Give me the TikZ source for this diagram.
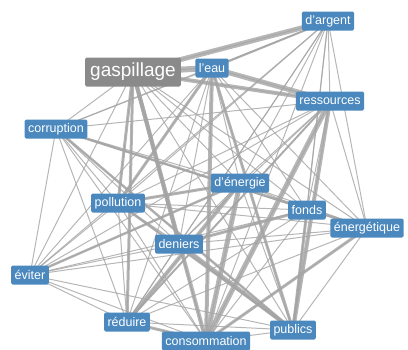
\documentclass[tikz,border=0pt]{standalone}
\usepackage{fontspec}
\setmainfont{Liberation Sans}
\usetikzlibrary{backgrounds}
\definecolor{motbleu}{HTML}{4A88BD}
\definecolor{motgris}{HTML}{8A8A8A}
\definecolor{lien}{HTML}{A4A4A4}
\begin{document}
\begin{tikzpicture}[x=1pt,y=-1pt]
\tikzstyle{mot}=[rectangle,rounded corners=1.5pt,fill=motbleu,text=white,font=\fontsize{12.5}{14}\selectfont,inner xsep=3.5pt,inner ysep=2pt,minimum height=19pt]
\tikzstyle{centre}=[mot,fill=motgris,font=\fontsize{19}{21}\selectfont,minimum height=29pt,inner xsep=5pt]
\tikzstyle{lien}=[draw=lien,opacity=0.8,line width=#1]
\useasboundingbox (0,0) rectangle (408,349);
\node[mot](argent) at (328,21) {d'argent};
\node[centre](gasp) at (133,72) {gaspillage};
\node[mot](eau) at (212,68) {l'eau};
\node[mot](ress) at (330,101) {ressources};
\node[mot](corr) at (56,129) {corruption};
\node[mot](energie) at (240,183) {d'énergie};
\node[mot](poll) at (118,203) {pollution};
\node[mot](fonds) at (307,210) {fonds};
\node[mot](energ) at (367,228) {énergétique};
\node[mot](den) at (179,244) {deniers};
\node[mot](evit) at (30,275) {éviter};
\node[mot](red) at (127,322) {réduire};
\node[mot](cons) at (206,341) {consommation};
\node[mot](pub) at (293,330) {publics};

\begin{scope}[on background layer]
% tous les liens fins
\foreach \a [count=\i] in {argent,gasp,eau,ress,corr,energie,poll,fonds,energ,den,evit,red,cons,pub}
  \foreach \b [count=\j] in {argent,gasp,eau,ress,corr,energie,poll,fonds,energ,den,evit,red,cons,pub}
    {\ifnum\j>\i \draw[lien=1pt] (\a.center) -- (\b.center); \fi}
% liens forts
\draw[lien=6pt] (gasp.center) -- (eau.center);
\draw[lien=5pt] (gasp.center) -- (argent.center);
\draw[lien=2pt] (eau.center) -- (argent.center);
\draw[lien=5pt] (eau.center) -- (ress.center);
\draw[lien=4pt] (gasp.center) -- (ress.center);
\draw[lien=5pt] (ress.center) -- (cons.center);
\draw[lien=4pt] (ress.center) -- (pub.center);
\draw[lien=4pt] (gasp.center) -- (den.center);
\draw[lien=3pt] (gasp.center) -- (red.center);
\draw[lien=4pt] (gasp.center) -- (cons.center);
\draw[lien=3pt] (gasp.center) -- (poll.center);
\draw[lien=4pt] (eau.center) -- (cons.center);
\draw[lien=3pt] (eau.center) -- (poll.center);
\draw[lien=3pt] (eau.center) -- (pub.center);
\draw[lien=5pt] (energie.center) -- (cons.center);
\draw[lien=4pt] (energie.center) -- (red.center);
\draw[lien=3pt] (energie.center) -- (poll.center);
\draw[lien=4pt] (den.center) -- (pub.center);
\draw[lien=3pt] (fonds.center) -- (pub.center);
\draw[lien=3pt] (fonds.center) -- (den.center);
\draw[lien=3pt] (red.center) -- (cons.center);
\draw[lien=3pt] (energ.center) -- (cons.center);
\draw[lien=2.5pt] (corr.center) -- (energ.center);
\draw[lien=2.5pt] (poll.center) -- (pub.center);
\draw[lien=2.5pt] (evit.center) -- (energie.center);
\draw[lien=2.5pt] (corr.center) -- (pub.center);
\draw[lien=2pt] (ress.center) -- (red.center);
\end{scope}
\end{tikzpicture}
\end{document}
